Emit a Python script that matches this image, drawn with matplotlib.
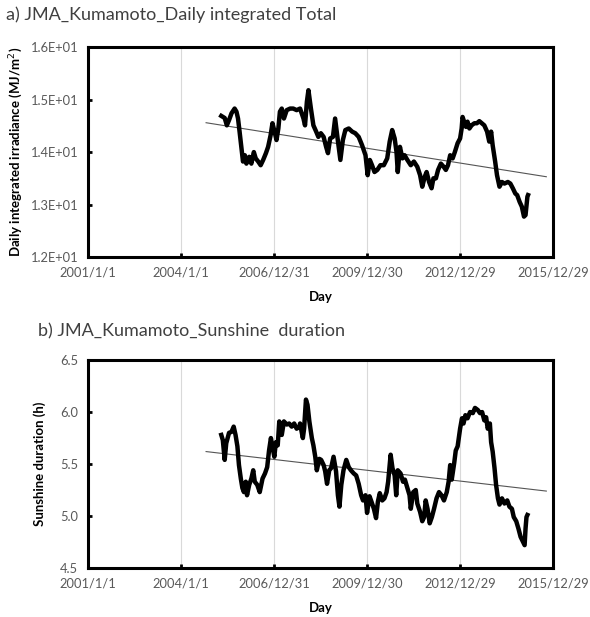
import numpy as np
import matplotlib
matplotlib.use("Agg")
import matplotlib.pyplot as plt
from matplotlib.ticker import FuncFormatter

plt.rcParams['font.family'] = ['Lato', 'DejaVu Sans']

# x tick labels (Excel date axis, one tick every 1095 days from 2001/1/1)
tick_labels = ['2001/1/1', '2004/1/1', '2006/12/31', '2009/12/30', '2012/12/29', '2015/12/29']

# a) daily integrated total irradiance (MJ/m2), running mean
years_a = [2005.30, 2005.41, 2005.48, 2005.55, 2005.63, 2005.73, 2005.79, 2005.84, 2005.89, 2005.95,
           2006.00, 2006.06, 2006.11, 2006.20, 2006.27, 2006.35, 2006.41, 2006.49, 2006.57, 2006.65,
           2006.74, 2006.81, 2006.89, 2006.95, 2007.03, 2007.08, 2007.14, 2007.19, 2007.25, 2007.32,
           2007.41, 2007.52, 2007.62, 2007.73, 2007.84, 2007.95, 2008.00, 2008.06, 2008.11, 2008.19,
           2008.27, 2008.36, 2008.43, 2008.51, 2008.60, 2008.68, 2008.74, 2008.81, 2008.90, 2008.97,
           2009.05, 2009.14, 2009.22, 2009.30, 2009.41, 2009.52, 2009.62, 2009.73, 2009.84, 2009.95,
           2010.02, 2010.09, 2010.16, 2010.24, 2010.33, 2010.43, 2010.54, 2010.65, 2010.73, 2010.81,
           2010.89, 2010.95, 2010.99, 2011.06, 2011.14, 2011.21, 2011.30, 2011.41, 2011.51, 2011.62,
           2011.71, 2011.78, 2011.86, 2011.92, 2012.00, 2012.08, 2012.14, 2012.22, 2012.29, 2012.38,
           2012.47, 2012.54, 2012.61, 2012.68, 2012.76, 2012.83, 2012.92, 2013.00, 2013.05, 2013.08,
           2013.13, 2013.19, 2013.24, 2013.30, 2013.37, 2013.46, 2013.54, 2013.62, 2013.70, 2013.78,
           2013.87, 2013.94, 2014.00, 2014.05, 2014.13, 2014.19, 2014.27, 2014.35, 2014.43, 2014.54,
           2014.62, 2014.70, 2014.78, 2014.84, 2014.92, 2014.99, 2015.06, 2015.11, 2015.17, 2015.19]
irr = [14.69, 14.65, 14.51, 14.61, 14.74, 14.83, 14.77, 14.64, 14.39, 14.07,
       13.82, 13.94, 13.78, 13.91, 13.78, 14.00, 13.88, 13.82, 13.75, 13.85,
       13.98, 14.10, 14.32, 14.55, 14.36, 14.23, 14.45, 14.77, 14.83, 14.64,
       14.80, 14.83, 14.83, 14.80, 14.83, 14.64, 14.51, 14.96, 15.18, 14.83,
       14.51, 14.39, 14.29, 14.36, 14.29, 14.10, 13.98, 14.26, 14.29, 14.64,
       14.26, 13.85, 14.23, 14.42, 14.45, 14.39, 14.36, 14.29, 14.13, 13.94,
       13.56, 13.85, 13.75, 13.62, 13.66, 13.75, 13.75, 13.88, 14.20, 14.42,
       14.26, 14.00, 13.62, 14.10, 13.88, 13.94, 13.85, 13.75, 13.82, 13.72,
       13.56, 13.34, 13.53, 13.62, 13.43, 13.31, 13.50, 13.50, 13.66, 13.78,
       13.72, 13.66, 13.75, 13.94, 13.88, 14.00, 14.17, 14.26, 14.45, 14.67,
       14.58, 14.48, 14.58, 14.45, 14.51, 14.55, 14.55, 14.59, 14.55, 14.51,
       14.39, 14.20, 14.39, 14.13, 13.82, 13.56, 13.34, 13.43, 13.40, 13.43,
       13.40, 13.31, 13.21, 13.18, 13.05, 12.96, 12.77, 12.80, 13.15, 13.18]
trend_a_years = [2004.81, 2015.78]
trend_a = [14.56, 13.53]

# b) sunshine duration (h)
years_b = [2005.30, 2005.35, 2005.41, 2005.46, 2005.55, 2005.63, 2005.70, 2005.76, 2005.82, 2005.87,
           2005.93, 2005.98, 2006.03, 2006.09, 2006.13, 2006.20, 2006.27, 2006.33, 2006.38, 2006.46,
           2006.54, 2006.63, 2006.71, 2006.78, 2006.84, 2006.90, 2006.95, 2007.01, 2007.06, 2007.12,
           2007.17, 2007.25, 2007.32, 2007.41, 2007.49, 2007.57, 2007.65, 2007.73, 2007.82, 2007.84,
           2007.93, 2007.97, 2008.03, 2008.08, 2008.14, 2008.22, 2008.27, 2008.33, 2008.38, 2008.46,
           2008.52, 2008.60, 2008.65, 2008.71, 2008.78, 2008.84, 2008.92, 2009.00, 2009.06, 2009.11,
           2009.17, 2009.24, 2009.33, 2009.41, 2009.48, 2009.57, 2009.65, 2009.73, 2009.81, 2009.87,
           2009.95, 2010.00, 2010.08, 2010.14, 2010.22, 2010.29, 2010.35, 2010.41, 2010.49, 2010.56,
           2010.63, 2010.68, 2010.76, 2010.82, 2010.89, 2010.94, 2010.99, 2011.08, 2011.16, 2011.22,
           2011.30, 2011.37, 2011.41, 2011.49, 2011.57, 2011.62, 2011.71, 2011.78, 2011.84, 2011.89,
           2011.95, 2012.02, 2012.09, 2012.16, 2012.24, 2012.32, 2012.40, 2012.48, 2012.57, 2012.63,
           2012.68, 2012.73, 2012.81, 2012.86, 2012.92, 2013.00, 2013.06, 2013.11, 2013.17, 2013.24,
           2013.32, 2013.41, 2013.48, 2013.57, 2013.64, 2013.71, 2013.78, 2013.84, 2013.89, 2013.96,
           2014.00, 2014.05, 2014.11, 2014.16, 2014.22, 2014.27, 2014.35, 2014.43, 2014.52, 2014.59,
           2014.67, 2014.73, 2014.81, 2014.88, 2014.95, 2015.03, 2015.08, 2015.11, 2015.14, 2015.17]
sun = [5.78, 5.73, 5.54, 5.70, 5.80, 5.81, 5.86, 5.78, 5.67, 5.49,
       5.36, 5.27, 5.23, 5.33, 5.20, 5.30, 5.36, 5.44, 5.33, 5.30,
       5.23, 5.36, 5.41, 5.47, 5.63, 5.75, 5.67, 5.57, 5.71, 5.68,
       5.91, 5.78, 5.91, 5.88, 5.89, 5.86, 5.89, 5.84, 5.86, 5.89,
       5.75, 5.84, 6.12, 6.07, 5.91, 5.75, 5.68, 5.57, 5.44, 5.55,
       5.54, 5.49, 5.43, 5.31, 5.44, 5.46, 5.57, 5.43, 5.20, 5.09,
       5.30, 5.44, 5.54, 5.47, 5.44, 5.41, 5.39, 5.31, 5.20, 5.15,
       5.20, 5.03, 5.19, 5.14, 5.07, 4.98, 5.14, 5.22, 5.15, 5.17,
       5.23, 5.33, 5.59, 5.46, 5.39, 5.20, 5.44, 5.41, 5.33, 5.35,
       5.27, 5.20, 5.07, 5.23, 5.25, 5.12, 5.04, 4.95, 4.99, 5.15,
       5.07, 4.93, 4.99, 5.07, 5.17, 5.23, 5.20, 5.15, 5.23, 5.33,
       5.49, 5.35, 5.51, 5.63, 5.67, 5.84, 5.94, 5.89, 5.97, 5.94,
       6.00, 5.99, 6.04, 6.02, 5.99, 6.00, 5.92, 5.95, 5.84, 5.89,
       5.71, 5.62, 5.46, 5.30, 5.17, 5.11, 5.17, 5.12, 5.15, 5.09,
       5.07, 4.99, 4.95, 4.88, 4.80, 4.75, 4.72, 4.88, 4.99, 5.01]
trend_b_years = [2004.81, 2015.78]
trend_b = [5.62, 5.24]


def to_days(yrs):
    return (np.asarray(yrs) - 2001.0) * 365.25


tick_pos = [i * 1095 for i in range(len(tick_labels))]

fig = plt.figure(figsize=(5.9, 6.17), dpi=100)
ax_a = fig.add_axes([0.149, 0.5835, 0.788, 0.340])
ax_b = fig.add_axes([0.149, 0.0794, 0.788, 0.337])

panels = [
    (ax_a, years_a, irr, trend_a_years, trend_a, (12, 16), [12, 13, 14, 15, 16],
     lambda v, p: '%.1E' % v, 'Daily integrated irradiance (MJ/m$^2$)', -0.135),
    (ax_b, years_b, sun, trend_b_years, trend_b, (4.5, 6.5), [4.5, 5.0, 5.5, 6.0, 6.5],
     lambda v, p: '%.1f' % v, 'Sunshine duration (h)', -0.09),
]

for ax, yrs, vals, tyrs, tvals, ylim, yticks, fmt, ylab, ylab_x in panels:
    ax.plot(to_days(tyrs), tvals, color='#555555', lw=0.8, zorder=2)
    ax.plot(to_days(yrs), vals, color='black', lw=3.2, zorder=3)
    ax.set_xlim(0, tick_pos[-1])
    ax.set_ylim(*ylim)
    ax.set_xticks(tick_pos)
    ax.set_xticklabels(tick_labels)
    ax.set_yticks(yticks)
    ax.yaxis.set_major_formatter(FuncFormatter(fmt))
    ax.grid(axis='x', color='#d9d9d9', lw=0.8)
    ax.set_axisbelow(True)
    for s in ax.spines.values():
        s.set_linewidth(2.2)
        s.set_color('black')
    ax.tick_params(direction='in', length=3, width=2, color='black',
                   labelsize=9.3, labelcolor='#595959', pad=7)
    ax.set_ylabel(ylab, fontsize=9.5, fontweight='bold')
    ax.yaxis.set_label_coords(ylab_x, 0.5)
    ax.set_xlabel('Day', fontsize=9.5, fontweight='bold')

ax_a.xaxis.set_label_coords(0.5, -0.16)
ax_b.xaxis.set_label_coords(0.5, -0.165)

fig.text(0.01, 1 - 15 / 617, 'a) JMA_Kumamoto_Daily integrated Total', fontsize=13,
         color='#404040', va='center', ha='left')
fig.text(0.064, 1 - 331 / 617, 'b) JMA_Kumamoto_Sunshine  duration', fontsize=13,
         color='#404040', va='center', ha='left')

fig.savefig('out.png', dpi=100)
